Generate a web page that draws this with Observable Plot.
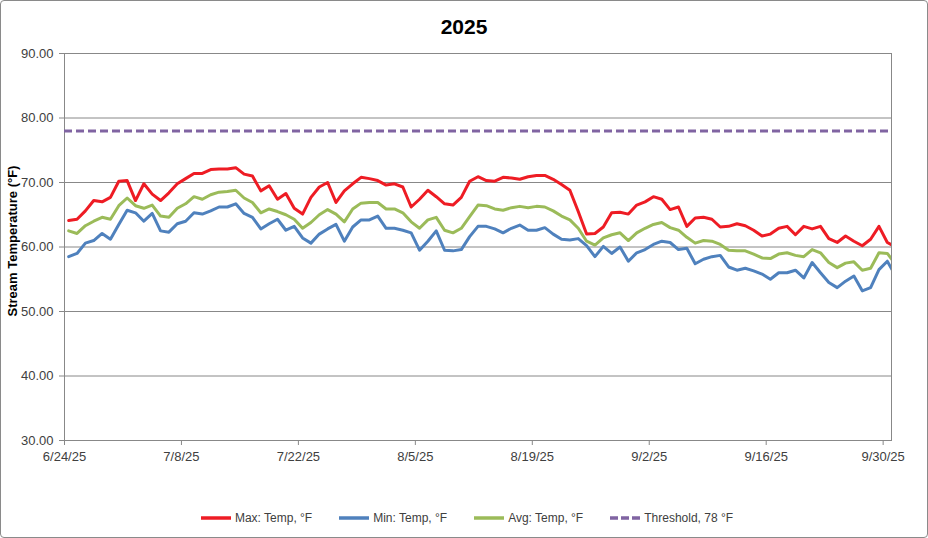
<!DOCTYPE html>
<html>
<head>
<meta charset="utf-8">
<script src="https://cdn.jsdelivr.net/npm/d3@7"></script>
<script src="https://cdn.jsdelivr.net/npm/@observablehq/plot@0.6"></script>
<style>
  html, body { margin: 0; padding: 0; background: #fff; }
  #wrap { position: relative; width: 928px; height: 538px; font-family: "Liberation Sans", Arial, sans-serif; color: #404040; }
  #border { position: absolute; left: 0; top: 0; width: 928px; height: 538px; box-sizing: border-box; border: 1px solid #8a8a8a; border-radius: 4px; pointer-events: none; }
  #title { height: 44px; text-align: center; font-weight: bold; font-size: 21px; color: #000; line-height: 54px; }
  #chart svg { display: block; }
  #legend { height: 48px; display: flex; justify-content: center; align-items: center; gap: 27px; font-size: 12px; color: #404040; padding-top: 8px; box-sizing: border-box; padding-left: 6px; }
  .item { display: flex; align-items: center; gap: 4px; }
</style>
</head>
<body>
<div id="wrap">
  <div id="title">2025</div>
  <div id="chart"></div>
  <div id="legend"></div>
  <div id="border"></div>
</div>
<script>
// ---- Data (daily values from 6/24/25; last value lies just past the axis end) ----
const startDate = "2025-06-24";
const maxTemp = [64.1, 64.3, 65.6, 67.2, 67.0, 67.7, 70.2, 70.3, 67.2, 69.8,
                 68.2, 67.2, 68.4, 69.8, 70.6, 71.4, 71.4, 72.0, 72.1, 72.1,
                 72.3, 71.3, 71.0, 68.7, 69.5, 67.4, 68.3, 66.0, 65.1, 67.7,
                 69.3, 70.0, 66.9, 68.7, 69.8, 70.8, 70.6, 70.3, 69.6, 69.8,
                 69.3, 66.2, 67.4, 68.8, 67.8, 66.7, 66.5, 67.7, 70.2, 70.9,
                 70.3, 70.2, 70.8, 70.7, 70.5, 70.9, 71.1, 71.1, 70.5, 69.7,
                 68.8, 65.5, 62.0, 62.1, 63.1, 65.3, 65.4, 65.1, 66.5, 67.0,
                 67.8, 67.4, 65.8, 66.2, 63.2, 64.5, 64.6, 64.3, 63.1, 63.2,
                 63.6, 63.3, 62.6, 61.7, 62.0, 62.9, 63.2, 61.9, 63.2, 62.8,
                 63.2, 61.3, 60.7, 61.7, 60.9, 60.2, 61.2, 63.2, 60.7, 60.0];
const minTemp = [58.5, 59.0, 60.6, 61.0, 62.1, 61.2, 63.5, 65.7, 65.3, 64.0,
                 65.2, 62.5, 62.3, 63.6, 64.0, 65.3, 65.1, 65.6, 66.2, 66.2,
                 66.7, 65.2, 64.6, 62.8, 63.6, 64.3, 62.6, 63.2, 61.4, 60.6,
                 62.0, 62.8, 63.5, 60.9, 63.1, 64.2, 64.2, 64.8, 62.9, 62.9,
                 62.6, 62.2, 59.5, 60.9, 62.5, 59.5, 59.4, 59.6, 61.6, 63.2,
                 63.2, 62.8, 62.2, 62.9, 63.4, 62.6, 62.6, 63.0, 62.0, 61.2,
                 61.1, 61.3, 60.2, 58.5, 60.1, 59.0, 60.0, 57.8, 59.1, 59.6,
                 60.4, 60.9, 60.7, 59.6, 59.8, 57.4, 58.1, 58.5, 58.7, 56.9,
                 56.4, 56.7, 56.3, 55.8, 55.0, 56.0, 56.0, 56.4, 55.2, 57.6,
                 56.0, 54.5, 53.7, 54.7, 55.5, 53.2, 53.7, 56.5, 57.8, 55.5];
const avgTemp = [62.5, 62.1, 63.3, 64.0, 64.6, 64.3, 66.4, 67.6, 66.4, 66.0,
                 66.5, 64.8, 64.6, 66.0, 66.7, 67.8, 67.4, 68.1, 68.5, 68.6,
                 68.8, 67.6, 66.9, 65.3, 65.9, 65.5, 65.0, 64.3, 62.9, 63.8,
                 65.0, 65.8, 65.1, 63.9, 65.9, 66.8, 66.9, 66.9, 65.9, 65.9,
                 65.3, 63.9, 62.9, 64.2, 64.6, 62.6, 62.2, 62.9, 64.7, 66.5,
                 66.4, 65.9, 65.7, 66.1, 66.3, 66.1, 66.3, 66.2, 65.6, 64.8,
                 64.2, 62.9, 60.9, 60.3, 61.4, 61.9, 62.2, 61.0, 62.2, 62.9,
                 63.5, 63.8, 63.0, 62.6, 61.5, 60.6, 61.0, 60.9, 60.4, 59.5,
                 59.4, 59.4, 58.9, 58.3, 58.2, 58.9, 59.1, 58.7, 58.5, 59.6,
                 59.1, 57.6, 56.8, 57.5, 57.7, 56.4, 56.7, 59.1, 59.0, 57.3];
const threshold = 78;
const yTicks = [30, 40, 50, 60, 70, 80, 90];
const xTickLabels = ["2025-06-24", "2025-07-08", "2025-07-22", "2025-08-05",
                     "2025-08-19", "2025-09-02", "2025-09-16", "2025-09-30"];
const xDomain = ["2025-06-24", "2025-10-01"];
const seriesNames = ["Max: Temp, °F", "Min: Temp, °F", "Avg: Temp, °F", "Threshold, 78 °F"];
const colors = ["#ee1c24", "#4f81bd", "#9bbb59", "#8064a2"];

// ---- Build table (each daily value plotted at mid-day) ----
const t0 = new Date(startDate + "T12:00:00Z");
const rows = maxTemp.map((v, i) => ({
  date: new Date(t0.getTime() + i * 864e5),
  max: v, min: minTemp[i], avg: avgTemp[i]
}));
const fmt = d => `${d.getUTCMonth() + 1}/${d.getUTCDate()}/${String(d.getUTCFullYear()).slice(2)}`;

const chart = Plot.plot({
  width: 928,
  height: 446,
  marginLeft: 64,
  marginRight: 37,
  marginTop: 9,
  marginBottom: 50,
  style: { fontFamily: "'Liberation Sans', Arial, sans-serif", fontSize: "13px", color: "#404040", background: "transparent" },
  x: { type: "utc", domain: xDomain.map(s => new Date(s + "T00:00:00Z")) },
  y: { domain: [30, 90] },
  marks: [
    Plot.gridY(yTicks, { stroke: "#888", strokeOpacity: 1, strokeWidth: 1 }),
    Plot.frame({ stroke: "#888", strokeWidth: 1 }),
    Plot.axisY(yTicks, { tickFormat: d => d.toFixed(2), tickSize: 5, tickPadding: 6, stroke: "#888", fill: "#404040", label: null }),
    Plot.axisX(xTickLabels.map(s => new Date(s + "T00:00:00Z")), { tickFormat: fmt, tickSize: 5, tickPadding: 6, stroke: "#888", fill: "#404040", label: null }),
    Plot.text(["Stream Temperature (°F)"], { frameAnchor: "left", textAnchor: "middle", dx: -52, dy: -6, rotate: -90, fontWeight: "bold", fontSize: 13, fill: "#000" }),
    Plot.line(rows, { x: "date", y: "max", stroke: colors[0], strokeWidth: 3, clip: true }),
    Plot.line(rows, { x: "date", y: "min", stroke: colors[1], strokeWidth: 3, clip: true }),
    Plot.line(rows, { x: "date", y: "avg", stroke: colors[2], strokeWidth: 3, clip: true }),
    Plot.ruleY([threshold], { stroke: colors[3], strokeWidth: 3, strokeDasharray: "8,4" })
  ]
});
document.getElementById("chart").append(chart);

// ---- Legend ----
const legend = document.getElementById("legend");
seriesNames.forEach((name, i) => {
  const item = document.createElement("div");
  item.className = "item";
  const dash = i === 3 ? 'stroke-dasharray="8,3"' : "";
  item.innerHTML = `<svg width="30" height="8"><line x1="0" y1="4" x2="30" y2="4" stroke="${colors[i]}" stroke-width="3.5" ${dash}/></svg><span>${name}</span>`;
  legend.append(item);
});
</script>
</body>
</html>
